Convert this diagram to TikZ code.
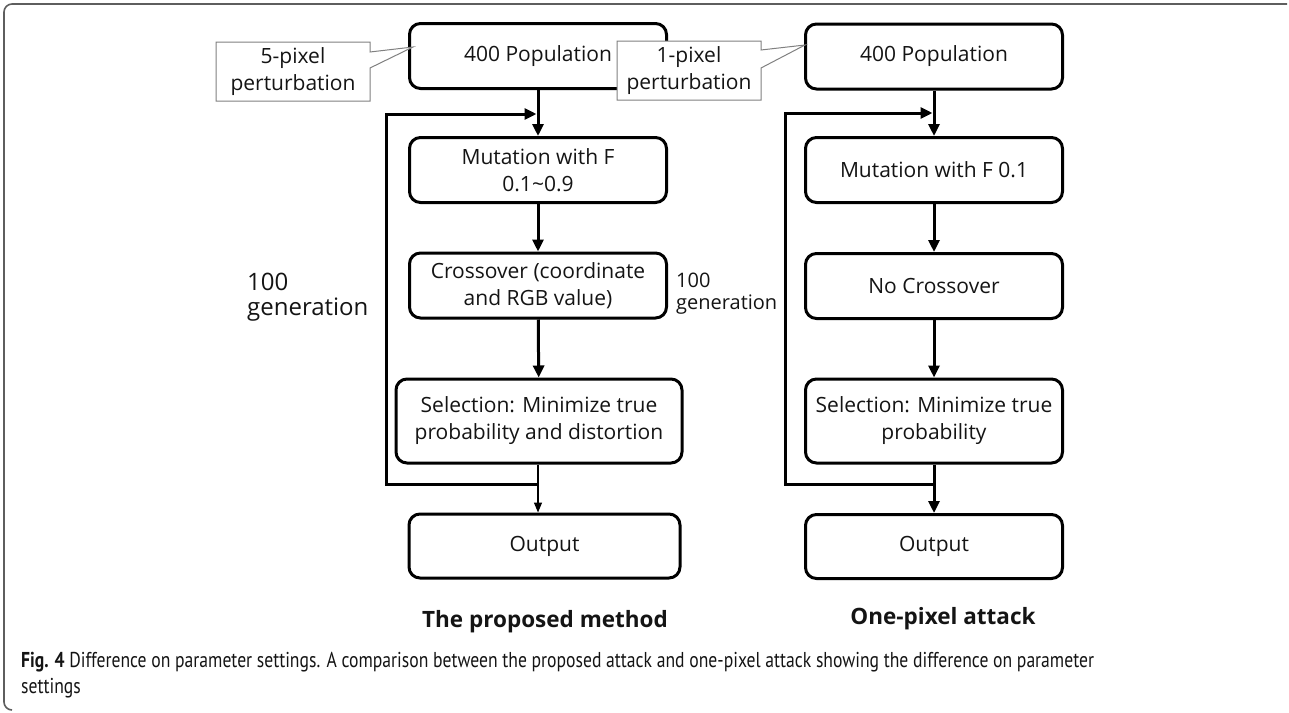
\documentclass[tikz,border=0pt]{standalone}
\usepackage{fontspec}
\setmainfont{Open Sans}
\newfontfamily\capfont[FakeStretch=0.82]{PT Sans}
\usepackage{xcolor}
\usetikzlibrary{arrows.meta}
\definecolor{inkgray}{HTML}{141414}
\definecolor{framegray}{HTML}{5E5E5E}

\begin{document}
\begin{tikzpicture}[x=1pt, y=-1pt,
        stepbox/.style={draw=black, line width=3pt, rounded corners=11pt, align=center, minimum width=257pt, minimum height=65pt, inner sep=0pt, font=\fontsize{21}{27}\selectfont, text=inkgray},
        flow/.style={line width=3pt, -{Triangle[length=12pt, width=11pt]}},
        thinflow/.style={line width=1.3pt, -{Triangle[length=10pt, width=8pt]}},
        tagline/.style={draw=gray, fill=white, line width=1pt},
        tagtext/.style={align=center, inner sep=0pt, font=\fontsize{21}{27}\selectfont, text=inkgray},
        gen/.style={align=left, anchor=west, inner sep=0pt, text=inkgray},
        title/.style={inner sep=0pt, font=\fontsize{22.5}{26}\selectfont\bfseries, text=inkgray}]
        \useasboundingbox (0,0) rectangle (1289,712);

        % frame of the figure
        \draw[framegray, line width=1.6pt, rounded corners=8pt] (1287,4) -- (4,4) -- (4,710) -- (12,710);

        \begin{scope}[shift={(538, 0)}]
            \node (pop) at (0, 56)[stepbox] {400 Population};

            \node (mut) at (0, 170)[stepbox] {Mutation with F\\0.1\textasciitilde0.9};

            \node (cross) at (0, 285.5)[stepbox] {Crossover (coordinate\\and RGB value)};

            \node (sel) at (1, 421)[stepbox, minimum width=286pt, minimum height=84pt] {Selection: Minimize true\\probability and distortion};

            \node (out) at (6.5, 546)[stepbox, minimum width=271pt, minimum height=64pt] {Output};

            \coordinate (low) at (0, 484);
            \coordinate (entry) at (0, 114);

            \draw[flow] (pop) -- (mut);
            \draw[flow] (mut) -- (cross);
            \draw[flow] (cross) -- (sel);
            \draw[thinflow] (sel.south -| low) -- (out.north -| low);
            \draw[flow, shorten >=1.5pt] (low) -- ++(-152, 0) |- (entry);

            % callout
            \coordinate (tip) at (-125, 47);
            \draw[tagline] (-322, 42) -- (-168, 42) -- (-168, 52) -- (tip) -- (-168, 68) -- (-168, 101) -- (-322, 101) -- cycle;
            \node (tag) at (-245, 71.5)[tagtext] {5-pixel\\perturbation};

            \node (title) at (7, 622)[title] {The proposed method};
        \end{scope}

        \begin{scope}[shift={(934, 0)}]
            \node (pop) at (0, 56.5)[stepbox] {400 Population};

            \node (mut) at (0, 170)[stepbox] {Mutation with F 0.1};

            \node (cross) at (0, 286)[stepbox] {No Crossover};

            \node (sel) at (0, 421)[stepbox, minimum height=84pt] {Selection: Minimize true\\probability};

            \node (out) at (0, 546.5)[stepbox, minimum height=64pt] {Output};

            \coordinate (low) at (0, 484);
            \coordinate (entry) at (0, 113);

            \draw[flow] (pop) -- (mut);
            \draw[flow] (mut) -- (cross);
            \draw[flow] (cross) -- (sel);
            \draw[flow] (sel) -- (out);
            \draw[flow, shorten >=1.5pt] (low) -- ++(-149, 0) |- (entry);

            % callout
            \coordinate (tip) at (-129, 45);
            \draw[tagline] (-317, 41) -- (-173, 41) -- (-173, 50) -- (tip) -- (-173, 68) -- (-173, 100) -- (-317, 100) -- cycle;
            \node (tag) at (-245, 70.5)[tagtext] {1-pixel\\perturbation};

            \node (title) at (9, 619)[title] {One-pixel attack};
        \end{scope}

        \node (genleft) at (247, 297.5)[gen, font=\fontsize{24}{25}\selectfont] {100\\generation};
        \node (genmid) at (676, 294)[gen, font=\fontsize{20}{22}\selectfont] {100\\generation};

        \node (caption) at (21, 675)[anchor=west, align=left, inner sep=0pt, text=inkgray, font=\capfont\fontsize{21.5}{26}\selectfont] {\textbf{Fig. 4} Difference on parameter settings. A comparison between the proposed attack and one-pixel attack showing the difference on parameter\\settings};
\end{tikzpicture}
\end{document}
